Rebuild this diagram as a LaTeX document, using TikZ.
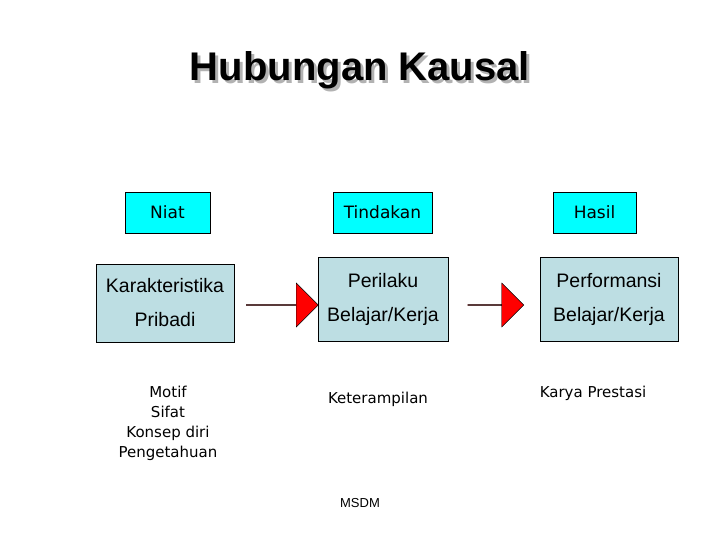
\documentclass[tikz,border=0pt]{standalone}
\usepackage{fontspec}
\setmainfont{Liberation Sans}
\newfontfamily\verd{DejaVu Sans}
\usetikzlibrary{positioning,shapes.arrows}
\definecolor{headcyan}{HTML}{00FFFF}
\definecolor{boxblue}{HTML}{BDDEE3}
\definecolor{arrred}{HTML}{FF0000}
\begin{document}
\begin{tikzpicture}[x=1pt,y=-1pt]
  \tikzset{
    headbox/.style={draw, thick, fill=headcyan, minimum height=41pt, font=\verd\fontsize{17}{20}\selectfont},
    mainbox/.style={draw, thick, fill=boxblue, minimum height=84pt, align=center, font=\fontsize{19.5}{34}\selectfont},
    redarrow/.style={single arrow, draw, fill=arrred, minimum height=72pt, minimum width=44pt, single arrow head extend=10pt, inner sep=0pt},
    note/.style={align=center, font=\verd\fontsize{15}{20}\selectfont}
  }
  \useasboundingbox (0,0) rectangle (720,540);
  % Title
  \node[font=\bfseries\fontsize{40}{46}\selectfont, text=gray!60] at (363,73) {Hubungan Kausal};
  \node[font=\bfseries\fontsize{40}{46}\selectfont] (title) at (360,70) {Hubungan Kausal};

  % Header boxes
  \node[headbox, minimum width=85pt] (niat) at (167.5,212.5) {Niat};
  \node[headbox, minimum width=99pt] (tindakan) at (382.5,212.5) {Tindakan};
  \node[headbox, minimum width=83pt] (hasil) at (594.5,212.5) {Hasil};

  % Main boxes
  \node[mainbox, minimum width=138pt, minimum height=78pt] (pribadi) at (165,303) {Karakteristika\\Pribadi};
  \node[mainbox, minimum width=130pt] (perilaku) at (383,299) {Perilaku\\Belajar/Kerja};
  \node[mainbox, minimum width=138pt] (performansi) at (609,299) {Performansi\\Belajar/Kerja};

  % Arrows
  \node[redarrow] (arrowa) at (282,305) {};
  \node[redarrow, minimum height=56pt] (arrowb) at (495.5,305) {};

  % Notes
  \node[note] (motif) at (168,423) {Motif\\Sifat\\Konsep diri\\Pengetahuan};
  \node[note] (terampil) at (378,399) {Keterampilan};
  \node[note] (karya) at (593,393) {Karya Prestasi};
  \node[font=\fontsize{13}{15}\selectfont] (msdm) at (360,503) {MSDM};
\end{tikzpicture}
\end{document}
